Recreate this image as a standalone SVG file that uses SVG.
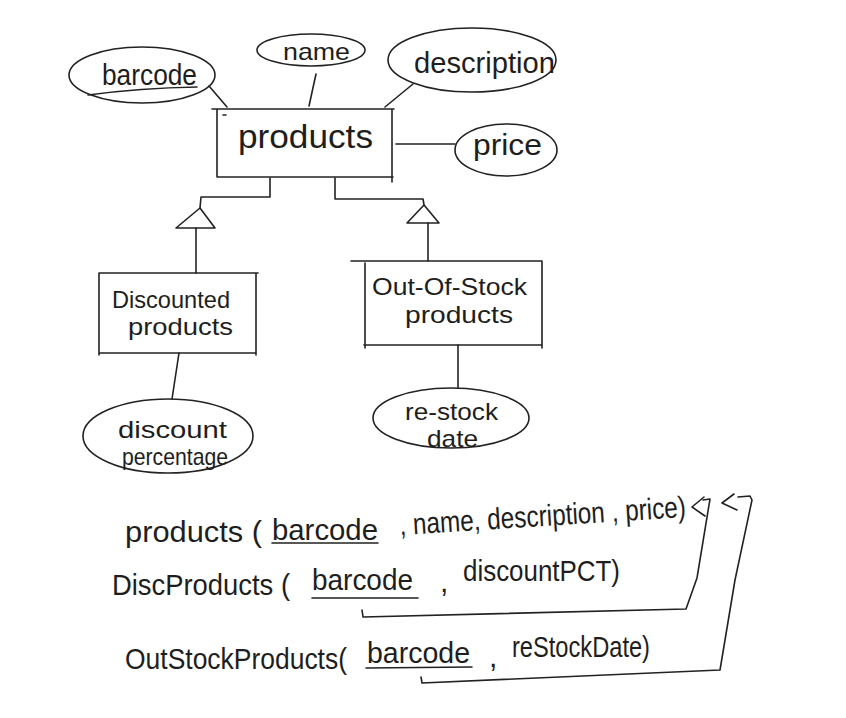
<svg xmlns="http://www.w3.org/2000/svg" width="846" height="718" viewBox="0 0 846 718">
<style>
.s{fill:none;stroke:#222;stroke-width:1.6;stroke-linecap:round;stroke-linejoin:round}
.t{font-family:"Liberation Sans","DejaVu Sans",sans-serif;fill:#1e1e1e}
.e{font-size:30px}
.m{font-size:24px}
.b{font-size:34px}
.r{font-size:30px}
</style>
<rect width="846" height="718" fill="#ffffff"/>
<g id="products">
<path class="s" d="M212,109 L394,109 M217,109 L217,177 M392,109 L392,182 M217,177 L393,177 M223,115 L226,115"/>
<text class="t b" x="238" y="148" textLength="135" lengthAdjust="spacingAndGlyphs">products</text>
</g>
<g id="attr-barcode">
<ellipse class="s" cx="142" cy="75" rx="73" ry="28"/>
<text class="t e" x="102" y="85" textLength="95" lengthAdjust="spacingAndGlyphs">barcode</text>
<path class="s" d="M88,95 Q140,88 197,87"/>
</g>
<g id="attr-name">
<ellipse class="s" cx="311" cy="50" rx="54" ry="16"/>
<text class="t m" x="283" y="60" textLength="67" lengthAdjust="spacingAndGlyphs">name</text>
</g>
<g id="attr-description">
<ellipse class="s" cx="472" cy="60" rx="84" ry="32"/>
<text class="t e" x="414" y="73" textLength="141" lengthAdjust="spacingAndGlyphs">description</text>
</g>
<g id="attr-price">
<ellipse class="s" cx="506" cy="150" rx="51" ry="26"/>
<text class="t e" x="473" y="155" textLength="69" lengthAdjust="spacingAndGlyphs">price</text>
</g>
<g id="discounted">
<path class="s" d="M99,273 L258,273 M99,273 L99,355 M256,273 L256,355 M99,353 L256,353"/>
<text class="t m" x="112" y="308" textLength="118" lengthAdjust="spacingAndGlyphs">Discounted</text>
<text class="t m" x="128" y="335" textLength="105" lengthAdjust="spacingAndGlyphs">products</text>
</g>
<g id="outofstock">
<path class="s" d="M351,261 L542,261 M365,263 L365,348 M542,261 L542,348 M364,345 L541,345"/>
<text class="t m" x="372" y="295" textLength="155" lengthAdjust="spacingAndGlyphs">Out-Of-Stock</text>
<text class="t m" x="405" y="323" textLength="108" lengthAdjust="spacingAndGlyphs">products</text>
</g>
<g id="attr-discount">
<ellipse class="s" cx="168" cy="436" rx="85" ry="37"/>
<text class="t m" x="118" y="438" textLength="109" lengthAdjust="spacingAndGlyphs">discount</text>
<text class="t m" x="122" y="465" textLength="106" lengthAdjust="spacingAndGlyphs">percentage</text>
</g>
<g id="attr-restock">
<ellipse class="s" cx="451" cy="418" rx="78" ry="30"/>
<text class="t m" x="405" y="420" textLength="93" lengthAdjust="spacingAndGlyphs">re-stock</text>
<text class="t m" x="427" y="447" textLength="51" lengthAdjust="spacingAndGlyphs">date</text>
</g>
<g id="connectors">
<path class="s" d="M209,86 L227,107"/>
<path class="s" d="M316,74 L309,106"/>
<path class="s" d="M413,84 L385,107"/>
<path class="s" d="M396,144 L455,144"/>
<path class="s" d="M270,178 L270,197 L201,197 L200,208"/>
<path class="s" d="M200,208 L176,228 L215,228 Z"/>
<path class="s" d="M196,228 L196,273"/>
<path class="s" d="M335,178 L335,199 L423,199 L424,205"/>
<path class="s" d="M424,205 L407,223 L439,223 Z"/>
<path class="s" d="M428,223 L428,261"/>
<path class="s" d="M179,353 L172,399"/>
<path class="s" d="M458,345 L458,388"/>
<path class="s" d="M362,610 L363,617 L686,609 L697,578 L710,499 L703,500"/>
<path class="s" d="M704,497 L692,507 L705,516"/>
<path class="s" d="M421,677 L422,683 L720,670 L735,580 L752,500 L750,496 L738,497"/>
<path class="s" d="M734,494 L722,503 L737,510"/>
</g>
<g id="relations">
<text class="t r" x="125" y="542" textLength="137" lengthAdjust="spacingAndGlyphs">products (</text>
<text class="t r" x="272" y="540" textLength="106" lengthAdjust="spacingAndGlyphs">barcode</text>
<path class="s" d="M272,543 L378,543"/>
<text class="t r" x="400" y="535" textLength="287" lengthAdjust="spacingAndGlyphs" transform="rotate(-3.6 400 535)">, name, description , price)</text>
<text class="t r" x="112" y="595" textLength="178" lengthAdjust="spacingAndGlyphs">DiscProducts (</text>
<text class="t r" x="312" y="590" textLength="101" lengthAdjust="spacingAndGlyphs">barcode</text>
<path class="s" d="M312,598 L418,598"/>
<text class="t r" x="440" y="592">,</text>
<text class="t r" x="463" y="581" textLength="157" lengthAdjust="spacingAndGlyphs">discountPCT)</text>
<text class="t r" x="125" y="669" textLength="222" lengthAdjust="spacingAndGlyphs">OutStockProducts(</text>
<text class="t r" x="367" y="663" textLength="103" lengthAdjust="spacingAndGlyphs">barcode</text>
<path class="s" d="M366,668 L472,667"/>
<text class="t r" x="489" y="667">,</text>
<text class="t r" x="512" y="657" textLength="138" lengthAdjust="spacingAndGlyphs">reStockDate)</text>
</g>
</svg>
